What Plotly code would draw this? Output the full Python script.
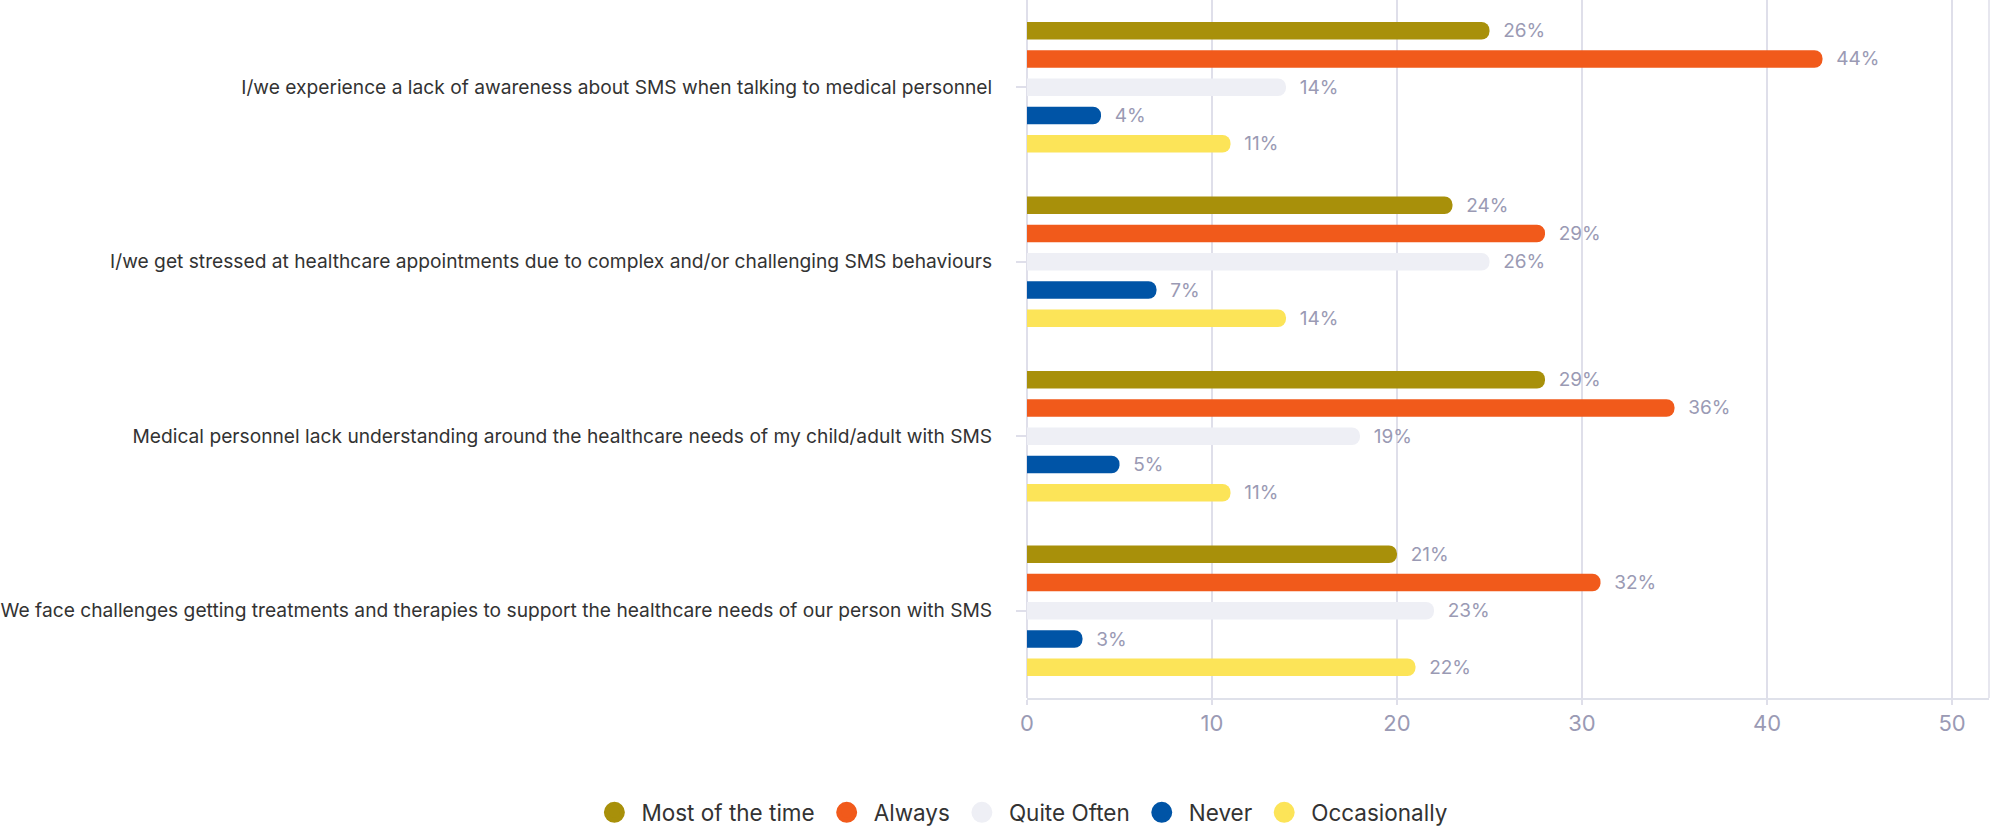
import plotly.graph_objects as go

categories = [
    "I/we experience a lack of awareness about SMS when talking to medical personnel",
    "I/we get stressed at healthcare appointments due to complex and/or challenging SMS behaviours",
    "Medical personnel lack understanding around the healthcare needs of my child/adult with SMS",
    "We face challenges getting treatments and therapies to support the healthcare needs of our person with SMS",
]
series_names = ["Most of the time", "Always", "Quite Often", "Never", "Occasionally"]
colors = ["#a8900a", "#f15a1b", "#eeeff5", "#0054a6", "#fce458"]

most_of_the_time = [25, 23, 28, 20]
always = [43, 28, 35, 31]
quite_often = [14, 25, 18, 22]
never = [4, 7, 5, 3]
occasionally = [11, 14, 11, 21]

most_of_the_time_pct = ["26%", "24%", "29%", "21%"]
always_pct = ["44%", "29%", "36%", "32%"]
quite_often_pct = ["14%", "26%", "19%", "23%"]
never_pct = ["4%", "7%", "5%", "3%"]
occasionally_pct = ["11%", "14%", "11%", "22%"]

x_ticks = [0, 10, 20, 30, 40, 50]

values = [most_of_the_time, always, quite_often, never, occasionally]
labels = [most_of_the_time_pct, always_pct, quite_often_pct, never_pct, occasionally_pct]

fig = go.Figure()
for name, col, vals, labs in zip(series_names, colors, values, labels):
    fig.add_trace(go.Bar(
        y=categories, x=vals, orientation="h", name=name,
        marker=dict(color=col, cornerradius=8, line=dict(width=0)),
        text=labs, texttemplate="  %{text}", textposition="outside",
        constraintext="none",
        textfont=dict(color="#9a9ab4", size=19, family="Inter"),
        cliponaxis=False, showlegend=False, hoverinfo="skip",
    ))
for name, col in zip(series_names, colors):
    fig.add_trace(go.Scatter(
        x=[None], y=[None], mode="markers", name=name,
        marker=dict(color=col, size=16, symbol="circle", line=dict(color=col, width=5)),
        showlegend=True,
    ))

fig.update_layout(
    width=1991, height=831,
    margin=dict(l=1027, r=2, t=0, b=133),
    plot_bgcolor="white", paper_bgcolor="white",
    barmode="group", bargap=0.19, bargroupgap=0.38,
    font=dict(family="Inter", color="#333333"),
    legend=dict(
        orientation="h", xref="container", yref="container",
        x=0.5125, xanchor="center", y=0.022, yanchor="middle",
        font=dict(size=22.5, color="#333333", family="Inter"),
        itemsizing="trace", itemwidth=44,
    ),
    xaxis=dict(
        range=[0, 52], tickvals=x_ticks, showgrid=True, gridcolor="#dfdfea", gridwidth=1.5,
        zeroline=True, zerolinecolor="#dfdfea", zerolinewidth=1.5,
        showline=True, linecolor="#dfe1ea", linewidth=2,
        ticks="outside", ticklen=5, tickcolor="#dfdfea", tickwidth=1.5,
        tickfont=dict(size=22, color="#9a9ab4", family="Inter"),
        fixedrange=True,
    ),
    yaxis=dict(
        autorange="reversed", showgrid=False, ticks="outside", ticklen=10,
        tickcolor="#dfdfea", tickwidth=1.5, ticklabelstandoff=20,
        tickfont=dict(size=19.2, color="#333333", family="Inter"),
        fixedrange=True,
    ),
    shapes=[dict(type="line", xref="paper", yref="paper", x0=1, x1=1, y0=0, y1=1,
                 line=dict(color="#dfdfea", width=1.5))],
)

fig.write_html("out.html", config={"displayModeBar": False},
               post_script="document.body.style.margin='0';")
